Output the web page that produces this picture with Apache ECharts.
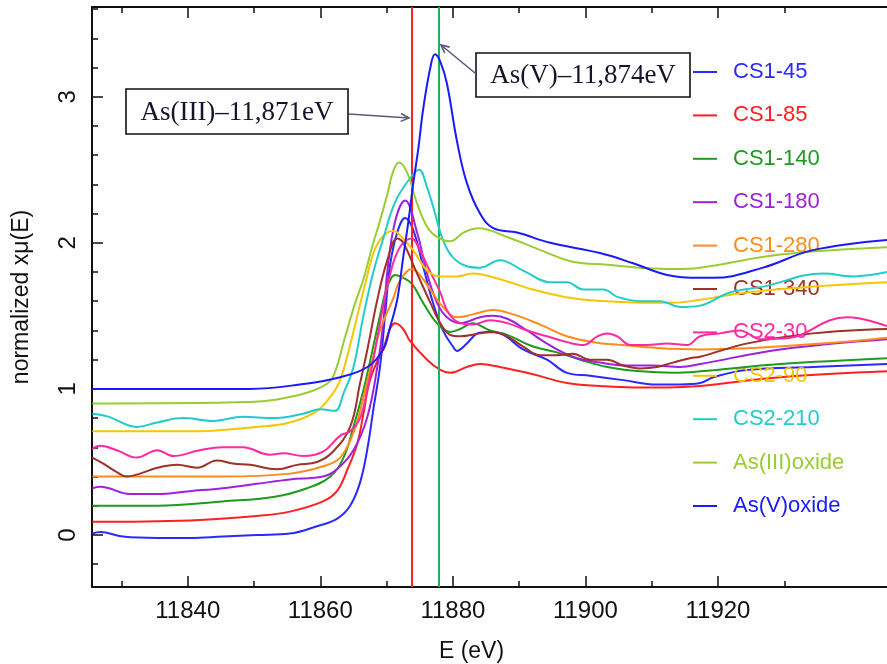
<!DOCTYPE html>
<html><head><meta charset="utf-8">
<script src="https://cdn.jsdelivr.net/npm/echarts@6/dist/echarts.min.js"></script>
<style>html,body{margin:0;padding:0;background:#fff}#c{width:887px;height:664px}</style>
</head><body><div id="c"></div>
<script>
// ---- data (E in eV, normalized x mu(E)) ----
const seriesNames = ['CS1-45','CS1-85','CS1-140','CS1-180','CS1-280','CS1-340','CS2-30','CS2-90','CS2-210','As(III)oxide','As(V)oxide'];
const seriesColors = ['#2a2aff','#ff2020','#1e9a1e','#a020e0','#ff8c1a','#a0302a','#ff2aa0','#f7c600','#22cccc','#9acd32','#1a1aff'];

const cs1_45 = [[11825.6,0.01],[11826.8,0.02],[11830.2,-0.01],[11835.4,-0.02],[11840.3,-0.02],[11845.3,-0.01],[11850.4,0.00],[11855.4,0.01],[11859.5,0.06],[11862.5,0.11],[11864.5,0.20],[11866.0,0.36],[11867.1,0.59],[11868.0,0.86],[11869.0,1.15],[11869.8,1.52],[11870.5,1.84],[11871.6,2.07],[11872.8,2.17],[11874.0,2.09],[11875.5,1.84],[11877.0,1.59],[11878.5,1.40],[11880.0,1.29],[11880.6,1.26],[11882.1,1.31],[11883.7,1.38],[11885.2,1.39],[11887.1,1.38],[11890.6,1.27],[11894.2,1.20],[11897.2,1.11],[11900.7,1.09],[11905.7,1.06],[11910.8,1.03],[11914.3,1.03],[11917.3,1.04],[11919.3,1.08],[11924.3,1.13],[11934.3,1.15],[11945.5,1.17]];
const cs1_85 = [[11825.6,0.09],[11840.3,0.10],[11850.4,0.13],[11855.4,0.16],[11860.4,0.23],[11862.5,0.30],[11864.1,0.45],[11865.6,0.63],[11866.5,0.83],[11867.5,1.06],[11869.5,1.28],[11871.3,1.45],[11872.5,1.41],[11873.5,1.33],[11876.1,1.20],[11878.1,1.13],[11879.6,1.11],[11882.1,1.15],[11884.1,1.17],[11887.1,1.15],[11892.1,1.10],[11897.2,1.04],[11902.2,1.02],[11907.2,1.01],[11912.3,1.01],[11917.3,1.02],[11929.4,1.08],[11945.5,1.12]];
const cs1_140 = [[11825.6,0.20],[11835.4,0.20],[11845.3,0.23],[11852.9,0.26],[11858.0,0.32],[11861.5,0.40],[11863.5,0.53],[11865.0,0.74],[11866.5,0.99],[11867.8,1.25],[11869.0,1.50],[11870.1,1.70],[11871.3,1.78],[11872.5,1.76],[11873.8,1.72],[11875.5,1.59],[11877.6,1.45],[11879.6,1.39],[11881.1,1.41],[11883.0,1.45],[11885.6,1.40],[11888.2,1.37],[11892.1,1.29],[11895.7,1.25],[11899.2,1.20],[11903.3,1.15],[11908.3,1.12],[11913.2,1.11],[11917.3,1.12],[11929.4,1.17],[11945.5,1.21]];
const cs1_180 = [[11825.6,0.32],[11826.8,0.33],[11831.3,0.28],[11835.4,0.28],[11840.3,0.30],[11845.3,0.32],[11850.4,0.35],[11855.4,0.38],[11860.4,0.40],[11862.5,0.45],[11865.0,0.58],[11867.1,0.81],[11868.6,1.15],[11869.5,1.45],[11870.1,1.80],[11871.3,2.15],[11872.8,2.29],[11874.6,2.07],[11876.1,1.79],[11877.6,1.59],[11879.1,1.49],[11881.1,1.45],[11884.1,1.49],[11886.1,1.50],[11888.2,1.48],[11891.2,1.40],[11894.2,1.31],[11898.1,1.22],[11902.2,1.18],[11906.3,1.16],[11910.2,1.16],[11914.3,1.15],[11917.3,1.17],[11929.4,1.27],[11945.5,1.34]];
const cs1_280 = [[11825.6,0.40],[11835.4,0.40],[11845.3,0.40],[11855.4,0.42],[11860.4,0.47],[11863.0,0.53],[11865.0,0.70],[11866.0,0.85],[11867.5,1.13],[11869.0,1.40],[11871.0,1.62],[11872.0,1.74],[11873.8,1.82],[11875.0,1.78],[11876.6,1.68],[11878.5,1.56],[11880.6,1.49],[11883.0,1.51],[11886.1,1.54],[11889.1,1.51],[11893.2,1.44],[11897.2,1.36],[11901.2,1.32],[11905.7,1.30],[11910.8,1.28],[11917.3,1.27],[11945.5,1.35]];
const cs1_340 = [[11825.6,0.53],[11827.2,0.49],[11829.3,0.43],[11830.8,0.40],[11832.8,0.42],[11835.4,0.46],[11838.4,0.48],[11841.4,0.46],[11844.4,0.51],[11846.8,0.49],[11849.4,0.48],[11853.5,0.45],[11856.5,0.48],[11859.5,0.50],[11861.9,0.57],[11864.5,0.74],[11866.0,1.04],[11867.1,1.27],[11868.6,1.61],[11870.1,1.88],[11871.6,2.03],[11872.5,2.00],[11874.6,1.79],[11876.6,1.59],[11878.1,1.45],[11879.6,1.37],[11881.1,1.36],[11884.1,1.38],[11886.1,1.39],[11888.2,1.36],[11890.6,1.29],[11893.2,1.23],[11895.7,1.23],[11898.1,1.24],[11900.7,1.20],[11903.3,1.20],[11905.7,1.16],[11908.3,1.14],[11910.8,1.15],[11913.2,1.18],[11915.8,1.21],[11917.3,1.22],[11924.3,1.31],[11934.3,1.38],[11945.5,1.41]];
const cs2_30 = [[11825.6,0.59],[11826.8,0.61],[11829.3,0.58],[11832.3,0.53],[11835.4,0.58],[11837.8,0.54],[11841.8,0.58],[11845.3,0.60],[11848.3,0.60],[11852.4,0.55],[11854.4,0.56],[11857.4,0.54],[11860.4,0.57],[11863.0,0.68],[11864.5,0.71],[11866.0,0.80],[11867.1,1.00],[11868.0,1.20],[11869.0,1.45],[11870.5,1.78],[11872.0,1.97],[11873.8,2.03],[11875.0,1.95],[11876.6,1.80],[11878.1,1.66],[11879.1,1.54],[11880.6,1.46],[11883.0,1.44],[11885.6,1.47],[11888.2,1.45],[11891.2,1.40],[11894.2,1.36],[11897.2,1.32],[11899.7,1.30],[11901.8,1.36],[11903.3,1.38],[11904.8,1.36],[11906.8,1.30],[11909.3,1.30],[11912.3,1.31],[11915.3,1.30],[11917.3,1.36],[11920.3,1.38],[11923.3,1.40],[11926.4,1.34],[11930.9,1.35],[11936.9,1.47],[11939.5,1.49],[11945.5,1.43]];
const cs2_90 = [[11825.6,0.71],[11840.3,0.71],[11850.4,0.74],[11855.4,0.77],[11859.5,0.85],[11861.9,0.97],[11863.0,1.06],[11864.5,1.30],[11866.0,1.58],[11867.1,1.78],[11868.0,1.93],[11869.0,2.02],[11870.1,2.07],[11870.9,2.08],[11871.6,2.07],[11874.0,1.95],[11876.1,1.81],[11878.1,1.77],[11880.6,1.77],[11883.0,1.79],[11887.1,1.75],[11892.1,1.68],[11898.1,1.62],[11903.3,1.60],[11908.3,1.59],[11913.2,1.59],[11917.3,1.61],[11924.3,1.66],[11934.3,1.70],[11945.5,1.73]];
const cs2_210 = [[11825.6,0.83],[11828.0,0.81],[11832.3,0.74],[11835.4,0.77],[11839.3,0.80],[11843.8,0.78],[11848.3,0.81],[11852.9,0.80],[11857.4,0.83],[11860.0,0.86],[11862.2,0.85],[11863.5,0.97],[11865.0,1.15],[11866.5,1.50],[11868.0,1.80],[11869.5,2.03],[11871.3,2.28],[11873.5,2.44],[11874.9,2.50],[11876.1,2.38],[11877.0,2.25],[11878.5,2.02],[11880.0,1.90],[11882.1,1.84],[11884.1,1.83],[11887.1,1.88],[11890.6,1.81],[11894.7,1.73],[11897.2,1.73],[11899.7,1.68],[11902.7,1.68],[11904.8,1.63],[11908.3,1.60],[11911.3,1.60],[11914.3,1.56],[11917.3,1.57],[11921.8,1.66],[11926.8,1.70],[11935.9,1.79],[11940.4,1.77],[11945.5,1.80]];
const as3oxide = [[11825.6,0.90],[11849.4,0.91],[11856.9,0.96],[11860.5,1.02],[11861.9,1.08],[11863.7,1.35],[11865.2,1.58],[11866.5,1.75],[11867.8,1.97],[11869.0,2.15],[11870.1,2.33],[11871.0,2.49],[11871.9,2.55],[11873.1,2.48],[11874.6,2.27],[11876.1,2.11],[11877.6,2.04],[11879.6,2.01],[11881.6,2.07],[11883.8,2.10],[11888.2,2.04],[11893.2,1.95],[11898.1,1.87],[11903.3,1.85],[11908.3,1.83],[11913.2,1.82],[11917.3,1.83],[11929.4,1.92],[11945.5,1.97]];
const as5oxide = [[11825.6,1.00],[11849.4,1.00],[11856.9,1.03],[11863.0,1.08],[11867.1,1.15],[11869.5,1.27],[11870.5,1.42],[11871.6,1.61],[11872.5,1.90],[11873.3,2.15],[11874.0,2.40],[11874.8,2.65],[11875.5,2.91],[11876.6,3.20],[11877.3,3.29],[11878.1,3.24],[11879.1,3.09],[11880.6,2.70],[11882.1,2.41],[11884.1,2.20],[11886.1,2.10],[11889.7,2.07],[11894.7,2.00],[11902.2,1.93],[11907.2,1.86],[11912.3,1.78],[11917.3,1.76],[11919.3,1.76],[11926.8,1.83],[11934.3,1.95],[11945.5,2.02]];

const xRange = [11825.55, 11945.5];
const yRange = [-0.356, 3.614];
const xTickValues = [11840, 11860, 11880, 11900, 11920];
const yTickValues = [0, 1, 2, 3];
const edgeEnergies = [11873.8, 11877.9];
const edgeColors = ['#ff2020', '#22b055'];
const annotationTexts = ['As(III)\u201311,871eV', 'As(V)\u201311,874eV'];

// ---- chart ----
const chart = echarts.init(document.getElementById('c'), null, {renderer: 'canvas', width: 887, height: 664});
const seriesData = [cs1_45, cs1_85, cs1_140, cs1_180, cs1_280, cs1_340, cs2_30, cs2_90, cs2_210, as3oxide, as5oxide];
const axisColor = '#111';
const font = 'Liberation Sans';

const series = seriesNames.map((n, i) => ({
  name: n, type: 'line', data: seriesData[i], symbol: 'none', showSymbol: false, smooth: 0.4,
  lineStyle: {color: seriesColors[i], width: 2}, itemStyle: {color: seriesColors[i]},
  emphasis: {disabled: true}, z: 2 + i
}));
series.push({
  name: 'edges', type: 'line', data: [], silent: true, z: 30,
  markLine: {
    silent: true, symbol: 'none', label: {show: false}, animation: false,
    data: edgeEnergies.map((e, i) => ({xAxis: e, lineStyle: {color: edgeColors[i], width: 2, type: 'solid'}}))
  }
});

function baseX(pos) {
  return {
    type: 'value', position: pos, min: xRange[0], max: xRange[1], splitNumber: 6,
    axisLine: {show: true, onZero: false, lineStyle: {color: axisColor, width: 2}},
    axisTick: {show: true, inside: true, length: 11, customValues: xTickValues, lineStyle: {color: axisColor, width: 1.5}},
    minorTick: {show: true, splitNumber: 2, length: 6, lineStyle: {color: axisColor, width: 1.5}},
    splitLine: {show: false}
  };
}
const xBottom = Object.assign(baseX('bottom'), {
  axisLabel: {customValues: xTickValues, fontSize: 24, fontFamily: font, color: axisColor, margin: 12, formatter: v => String(v)},
  name: 'E (eV)', nameLocation: 'middle', nameGap: 53,
  nameTextStyle: {fontSize: 23, fontFamily: font, color: axisColor, padding: [0, 36, 0, 0]}
});
const xTop = Object.assign(baseX('top'), {axisLabel: {show: false}});

function arrow(x1, y1, x2, y2, color) {
  const ang = Math.atan2(y2 - y1, x2 - x1), L = 9, a = 0.45;
  const p1 = [x2 - L * Math.cos(ang - a), y2 - L * Math.sin(ang - a)];
  const p2 = [x2 - L * Math.cos(ang + a), y2 - L * Math.sin(ang + a)];
  return [
    {type: 'line', z: 200, shape: {x1, y1, x2, y2}, style: {stroke: color, lineWidth: 1.6}},
    {type: 'polyline', z: 200, shape: {points: [p1, [x2, y2], p2]}, style: {stroke: color, fill: null, lineWidth: 1.6}}
  ];
}
function box(x, y, w, h, text) {
  return [
    {type: 'rect', z: 200, shape: {x, y, width: w, height: h}, style: {fill: '#fff', stroke: '#111', lineWidth: 1.6}},
    {type: 'text', z: 201, x: x + w / 2, y: y + h / 2 + 1,
     style: {text, font: '27px "Liberation Serif"', fill: '#15152a', align: 'center', verticalAlign: 'middle', textAlign: 'center', textVerticalAlign: 'middle'}}
  ];
}
const arrowColor = '#5a5a7a';
const graphics = [].concat(
  box(126, 89, 222, 45, annotationTexts[0]),
  box(476, 53, 214, 44, annotationTexts[1]),
  arrow(349, 114, 409, 118, arrowColor),
  arrow(475, 73, 441, 45, arrowColor)
);

chart.setOption({
  animation: false,
  backgroundColor: '#fff',
  grid: {left: 92, right: 0, top: 7, bottom: 77, containLabel: false, outerBoundsMode: 'none'},
  xAxis: [xBottom, xTop],
  yAxis: {
    type: 'value', min: yRange[0], max: yRange[1], splitNumber: 4,
    axisLine: {show: true, onZero: false, lineStyle: {color: axisColor, width: 2}},
    axisTick: {show: true, inside: true, length: 11, customValues: yTickValues, lineStyle: {color: axisColor, width: 1.5}},
    minorTick: {show: true, splitNumber: 5, length: 6, lineStyle: {color: axisColor, width: 1.5}},
    axisLabel: {customValues: yTickValues, rotate: 90, fontSize: 24, fontFamily: font, color: axisColor, margin: 12},
    splitLine: {show: false},
    name: 'normalized x\u03bc(E)', nameLocation: 'middle', nameGap: 59,
    nameTextStyle: {fontSize: 23, fontFamily: font, color: axisColor}
  },
  legend: {
    orient: 'vertical', left: 693, top: 61, padding: 0, itemWidth: 24, itemHeight: 2, itemGap: 21.4, icon: 'rect',
    selectedMode: false,
    textStyle: {fontFamily: font, fontSize: 22, padding: [0, 0, 0, 11]},
    data: seriesNames.map((n, i) => ({name: n, textStyle: {color: seriesColors[i]}}))
  },
  series,
  graphic: graphics
});
</script>
</body></html>
